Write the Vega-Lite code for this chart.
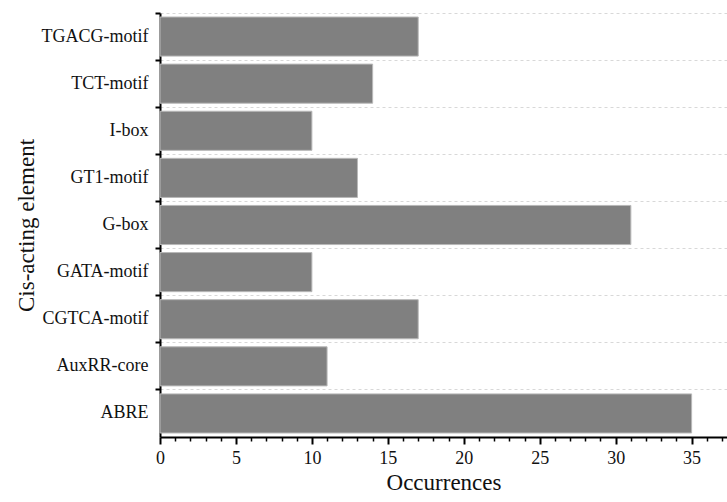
{
  "$schema": "https://vega.github.io/schema/vega-lite/v6.json",
  "width": 567,
  "height": 424,
  "autosize": "none",
  "padding": {"left": 160, "top": 13, "right": 0, "bottom": 65},
  "background": "white",
  "config": {
    "font": "Liberation Serif",
    "axis": {"labelFont": "Liberation Serif", "titleFont": "Liberation Serif"},
    "view": {"stroke": null}
  },
  "data": {
    "values": [
      {"element": "TGACG-motif", "count": 17},
      {"element": "TCT-motif", "count": 14},
      {"element": "I-box", "count": 10},
      {"element": "GT1-motif", "count": 13},
      {"element": "G-box", "count": 31},
      {"element": "GATA-motif", "count": 10},
      {"element": "CGTCA-motif", "count": 17},
      {"element": "AuxRR-core", "count": 11},
      {"element": "ABRE", "count": 35}
    ]
  },
  "mark": {"type": "bar", "color": "#808080", "stroke": "#b8b8b8", "strokeWidth": 1},
  "encoding": {
    "y": {
      "field": "element",
      "type": "nominal",
      "sort": null,
      "scale": {"paddingInner": 0.17, "paddingOuter": 0.085},
      "axis": {
        "title": "Cis-acting element",
        "titleFontSize": 23,
        "titleFontWeight": "normal",
        "titleColor": "#111",
        "titlePadding": 3,
        "labelFontSize": 18,
        "labelColor": "#111",
        "labelPadding": 7,
        "domainColor": "#000",
        "domainWidth": 2,
        "tickColor": "#000",
        "tickWidth": 2,
        "tickSize": 5,
        "bandPosition": -0.1,
        "grid": true,
        "gridColor": "#d8d8d8",
        "gridDash": [3, 3],
        "gridWidth": 1
      }
    },
    "x": {
      "field": "count",
      "type": "quantitative",
      "scale": {"domain": [0, 37.33], "nice": false},
      "axis": {
        "title": "Occurrences",
        "titleFontSize": 23,
        "titleFontWeight": "normal",
        "titleColor": "#111",
        "titlePadding": 4,
        "values": [0,1,2,3,4,5,6,7,8,9,10,11,12,13,14,15,16,17,18,19,20,21,22,23,24,25,26,27,28,29,30,31,32,33,34,35,36,37],
        "labelExpr": "datum.value % 5 === 0 ? datum.label : ''",
        "labelFontSize": 18,
        "labelColor": "#111",
        "labelPadding": 5,
        "labelFlush": false,
        "domainColor": "#000",
        "domainWidth": 2,
        "tickColor": "#000",
        "tickWidth": {"condition": {"test": "datum.value % 5 === 0", "value": 2}, "value": 1.5},
        "tickSize": {"condition": {"test": "datum.value % 5 === 0", "value": 7}, "value": 4},
        "grid": false
      }
    }
  }
}
